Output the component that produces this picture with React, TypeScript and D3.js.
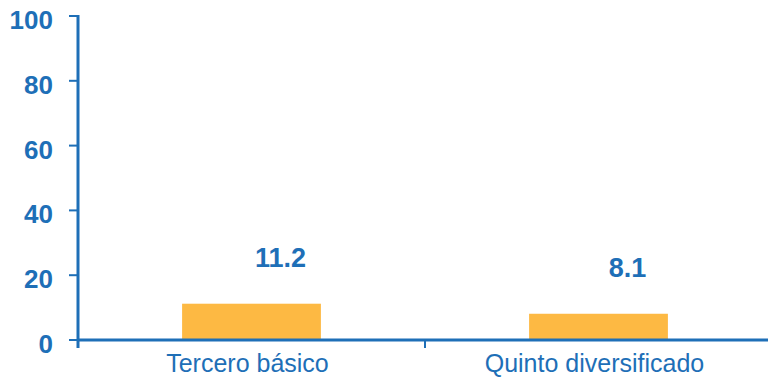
import React from "react";
import * as d3 from "d3";

const categories = ["Tercero básico", "Quinto diversificado"];
const values = [11.2, 8.1];
const valueLabels = ["11.2", "8.1"];
const yTicks = [0, 20, 40, 60, 80, 100];

const W = 768;
const H = 378;
const BLUE = "#1e6fb7";
const BAR = "#fdb943";
const FONT = "'Liberation Sans', Arial, Helvetica, sans-serif";

export default function App() {
  const left = 78;
  const top = 16;
  const bottom = 340;
  const x = d3.scaleBand<string>().domain(categories).range([left, left + 347 * 2]).paddingInner(0).paddingOuter(0);
  const y = d3.scaleLinear().domain([0, 100]).range([bottom, top]);
  const bw = x.bandwidth();
  const barW = bw * 0.4;

  return (
    <svg width={W} height={H} style={{ position: "absolute", left: 0, top: 0 }} fontFamily={FONT}>
      {categories.map((c, i) => (
        <rect
          key={c}
          x={(x(c) as number) + bw / 2 - barW / 2}
          y={y(values[i])}
          width={barW}
          height={y(0) - y(values[i])}
          fill={BAR}
        />
      ))}
      {categories.map((c, i) => (
        <text
          key={c + "v"}
          x={(x(c) as number) + bw / 2 + 29}
          y={y(values[i]) - 37}
          textAnchor="middle"
          fontSize={27}
          fontWeight="bold"
          fill={BLUE}
        >
          {valueLabels[i]}
        </text>
      ))}
      <line x1={left} x2={left} y1={top - 1} y2={bottom + 8} stroke={BLUE} strokeWidth={3} />
      {yTicks.map((t) => (
        <g key={t}>
          <line x1={left - 9} x2={left} y1={y(t)} y2={y(t)} stroke={BLUE} strokeWidth={2} />
          <text x={53} y={y(t) + 13} textAnchor="end" fontSize={26} fontWeight="bold" fill={BLUE}>
            {t}
          </text>
        </g>
      ))}
      <line x1={left} x2={W} y1={bottom} y2={bottom} stroke={BLUE} strokeWidth={3} />
      {categories.slice(1).map((c) => (
        <line key={c + "t"} x1={x(c) as number} x2={x(c) as number} y1={bottom} y2={bottom + 8} stroke={BLUE} strokeWidth={2} />
      ))}
      {categories.map((c) => (
        <text key={c + "l"} x={(x(c) as number) + bw / 2 - 4} y={372} textAnchor="middle" fontSize={25} fill={BLUE}>
          {c}
        </text>
      ))}
    </svg>
  );
}
